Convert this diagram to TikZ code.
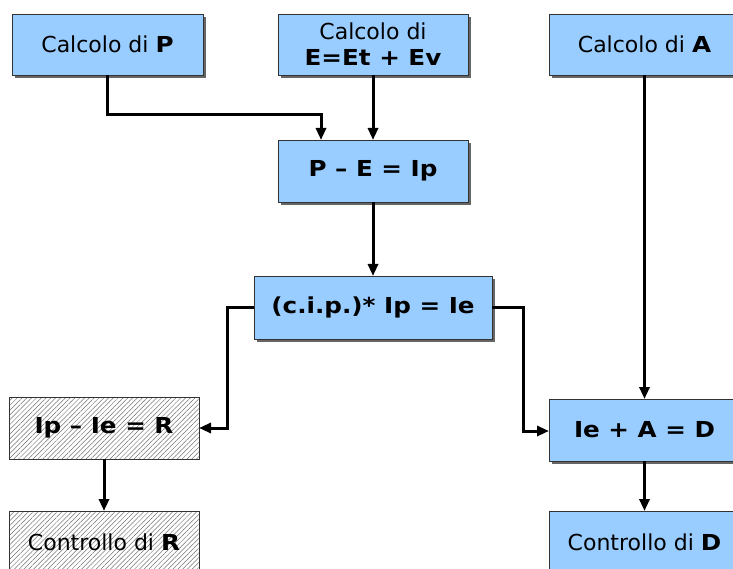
\documentclass[tikz,border=0pt]{standalone}
\usepackage{fontspec}
\setmainfont{DejaVu Sans}[BoldFeatures={FakeStretch=1.12}]
\usetikzlibrary{arrows.meta,shadows,patterns.meta}
\definecolor{boxblue}{HTML}{99CCFF}
\definecolor{boxline}{HTML}{333333}
\definecolor{shadowgray}{HTML}{666666}
\newcommand{\boxfont}{\fontsize{22}{26}\selectfont}
\tikzset{
  bluebox/.style={draw=boxline,line width=0.8pt,fill=boxblue,minimum width=#1,minimum height=61pt,inner sep=2pt,outer sep=0pt,align=center,
    font=\boxfont,
    drop shadow={shadow xshift=3pt,shadow yshift=-3pt,fill=shadowgray,opacity=1}},
  bluebox/.default=191pt,
  hatchbox/.style={draw=boxline,line width=0.8pt,minimum width=190pt,minimum height=62pt,inner sep=2pt,outer sep=0pt,align=center,
    font=\boxfont,
    pattern={Lines[angle=45,distance=3.4pt,line width=0.5pt]},pattern color=black!55},
  conn/.style={line width=3pt,-{Triangle[length=12pt,width=10pt]}},
}
\begin{document}
\begin{tikzpicture}[x=1pt,y=-1pt]
\useasboundingbox (0,0) rectangle (733,569);
\node[bluebox] (P) at (107.5,44.5) {Calcolo di \textbf{P}};
\node[bluebox=190pt] (E) at (373,44.5) {Calcolo di\\\textbf{E=Et + Ev}};
\node[bluebox] (A) at (644.5,44.5) {Calcolo di \textbf{A}};
\node[bluebox=190pt,minimum height=62pt] (PE) at (373,171) {\textbf{P – E = Ip}};
\node[bluebox=238pt,minimum height=63pt] (cip) at (373,307.5) {\textbf{(c.i.p.)* Ip = Ie}};
\node[hatchbox] (R) at (104,428) {\textbf{Ip – Ie = R}};
\node[hatchbox] (CR) at (104,542) {Controllo di \textbf{R}};
\node[bluebox,minimum height=62pt] (D) at (644.5,430) {\textbf{Ie + A = D}};
\node[bluebox,minimum height=62pt] (CD) at (644.5,542) {Controllo di \textbf{D}};
\coordinate (k1) at (321,115);
\coordinate (k2) at (227,428);
\coordinate (k3) at (523,431);
\draw[conn] (P.south) -- (P.south |- k1) -- (k1) -- (k1 |- PE.north);
\draw[conn] (E.south) -- (PE.north);
\draw[conn] (PE.south) -- (cip.north);
\draw[conn] (cip.west) -- (cip.west -| k2) -- (k2 |- R.east) -- (R.east);
\draw[conn] (cip.east) -- (cip.east -| k3) -- (k3) -- (k3 -| D.west);
\draw[conn] (A.south) -- (D.north);
\draw[conn] (R.south) -- (CR.north);
\draw[conn] (D.south) -- (CD.north);
\end{tikzpicture}
\end{document}
